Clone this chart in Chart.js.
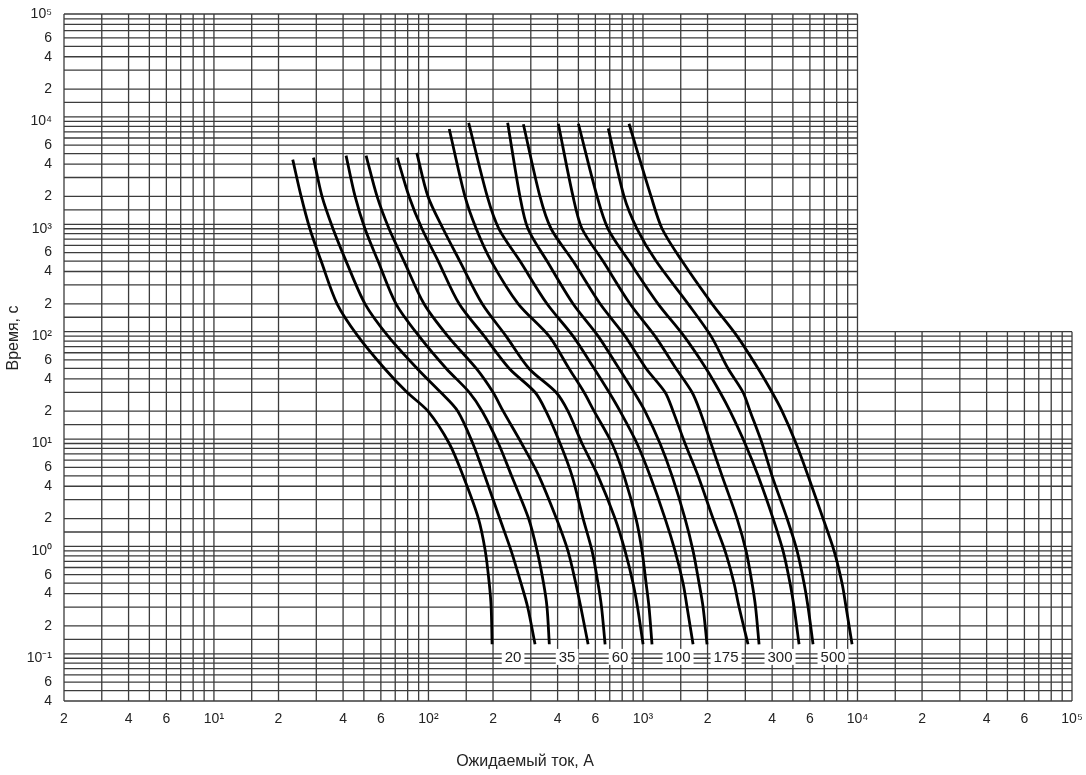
<!DOCTYPE html>
<html>
<head>
<meta charset="utf-8">
<script src="https://cdn.jsdelivr.net/npm/chart.js@4.4.1/dist/chart.umd.min.js"></script>
<style>
  html, body { margin: 0; padding: 0; background: #fff; }
  canvas { display: block; }
</style>
</head>
<body>
<canvas id="fuses" width="1086" height="775"></canvas>
<script>
// time levels (s) shared by all curves below the start point
const timeLevels = [2000, 1000, 500, 200, 100, 50, 30, 20, 10, 5, 2, 1, 0.5, 0.3, 0.135]

// first point of every curve (current A, time s)
const startCurrent = [23.3, 29.1, 41.3, 51.2, 71.6, 88.2, 125, 154, 234, 277, 403, 500, 689, 861]
const startTime = [4400, 4600, 4800, 4800, 4600, 5100, 8500, 9700, 9700, 9400, 9500, 9500, 8600, 9500]

// current (A) of each curve at the time levels above
const curve01 = [25.5, 28.0, 31.6, 37.5, 46.9, 62.4, 79.4, 99.5, 125, 145, 171, 184, 192, 196, 198]
const curve02 = [31.9, 35.9, 41.3, 50.6, 64.8, 88.5, 114, 137, 161, 183, 215, 243, 270, 290, 314]
const curve03 = [45.5, 50.6, 58.2, 70.6, 90.4, 121, 155, 178, 212, 244, 293, 321, 344, 357, 366]
const curve04 = [57.6, 65.5, 76.9, 95.3, 123, 167, 200, 223, 272, 327, 395, 447, 486, 513, 555]
const curve05 = [81.2, 93.3, 111, 139, 182, 238, 314, 353, 411, 467, 526, 579, 617, 641, 666]
const curve06 = [99.5, 117, 140, 178, 230, 294, 393, 447, 520, 617, 741, 825, 899, 943, 1001]
const curve07 = [148, 167, 196, 262, 365, 452, 531, 592, 717, 816, 928, 990, 1034, 1067, 1102]
const curve08 = [188, 213, 267, 357, 472, 592, 695, 782, 938, 1079, 1268, 1411, 1538, 1605, 1712]
const curve09 = [267, 291, 357, 472, 618, 773, 909, 1022, 1201, 1366, 1571, 1712, 1826, 1906, 1989]
const curve10 = [331, 373, 472, 631, 825, 1034, 1268, 1381, 1571, 1806, 2122, 2413, 2658, 2805, 3089]
const curve11 = [472, 520, 651, 870, 1138, 1426, 1693, 1845, 2076, 2337, 2745, 3024, 3225, 3349, 3477]
const curve12 = [611, 687, 861, 1176, 1554, 1968, 2287, 2546, 2991, 3440, 4041, 4498, 4849, 5062, 5342]
const curve13 = [816, 938, 1151, 1623, 2076, 2492, 2928, 3157, 3591, 3997, 4695, 5229, 5636, 5883, 6207]
const curve14 = [1091, 1228, 1521, 2099, 2745, 3440, 3997, 4450, 5173, 5883, 6911, 7777, 8473, 8845, 9435]

// rating labels along the bottom
const ratingLabels = ['20', '35', '60', '100', '175', '300', '500']
const ratingAt = [248, 443, 782, 1457, 2439, 4355, 7694]
const ratingTime = 0.103

// tick labels
const xTickValues = [2, 4, 6, 10, 20, 40, 60, 100, 200, 400, 600, 1000, 2000, 4000, 6000, 10000, 20000, 40000, 60000, 100000]
const yTickValues = [0.04, 0.06, 0.1, 0.2, 0.4, 0.6, 1, 2, 4, 6, 10, 20, 40, 60, 100, 200, 400, 600, 1000, 2000, 4000, 6000, 10000, 20000, 40000, 60000, 100000]

const curves = [curve01, curve02, curve03, curve04, curve05, curve06, curve07,
    curve08, curve09, curve10, curve11, curve12, curve13, curve14]

const FONT = '"Liberation Sans", Arial, sans-serif'
const sup = {'-': '\u207B', '0': '\u2070', '1': '\u00B9', '2': '\u00B2', '3': '\u00B3', '4': '\u2074', '5': '\u2075'}

function tickText(v) {
    let lg = Math.log10(v)
    let e = Math.round(lg)
    if (Math.abs(lg - e) < 1e-9) {
        return '10' + String(e).split('').map(c => sup[c]).join('')
    }
    return String(Math.round(v / Math.pow(10, Math.floor(lg))))
}

// grid lines of the log paper
function gridValues(steps, lo, hi) {
    let out = []
    for (let k = -2; k <= 5; k++) {
        steps.forEach(m => {
            let v = m * Math.pow(10, k)
            if (v >= lo * 0.999 && v <= hi * 1.001) out.push(v)
        })
    }
    return out
}
const gridX = gridValues([1, 1.5, 2, 3, 4, 5, 6, 7, 8, 9], 2, 1e5)
const gridY = gridValues([1, 1.1, 1.5, 2, 3, 4, 5, 6, 7, 8, 9], 0.04, 1e5)

const paperGrid = {
    id: 'paperGrid',
    beforeDatasetsDraw(chart) {
        const {ctx, scales: {x, y}} = chart
        const xLeft = x.getPixelForValue(2)
        const xMid = x.getPixelForValue(1e4)
        const xRight = x.getPixelForValue(1e5)
        const yTop = y.getPixelForValue(1e5)
        const yStep = y.getPixelForValue(110)
        const yBottom = y.getPixelForValue(0.04)
        ctx.save()
        ctx.strokeStyle = '#3c3c3c'
        ctx.lineWidth = 1.3
        ctx.beginPath()
        gridX.forEach(v => {
            let px = x.getPixelForValue(v)
            ctx.moveTo(px, v <= 1.0001e4 ? yTop : yStep)
            ctx.lineTo(px, yBottom)
        })
        gridY.forEach(v => {
            let py = y.getPixelForValue(v)
            ctx.moveTo(xLeft, py)
            ctx.lineTo(v < 111 ? xRight : xMid, py)
        })
        ctx.stroke()
        ctx.restore()
    },
    afterDatasetsDraw(chart) {
        const {ctx, scales: {x, y}} = chart
        ctx.save()
        ctx.font = '15px ' + FONT
        ctx.textAlign = 'center'
        ctx.textBaseline = 'middle'
        let py = y.getPixelForValue(ratingTime)
        ratingLabels.forEach((txt, i) => {
            let px = x.getPixelForValue(ratingAt[i])
            let w = ctx.measureText(txt).width + 6
            ctx.fillStyle = '#fff'
            ctx.fillRect(px - w / 2, py - 8, w, 16)
            ctx.fillStyle = '#222'
            ctx.fillText(txt, px, py + 1)
        })
        ctx.restore()
    },
    afterDraw(chart) {
        const {ctx} = chart
        ctx.save()
        ctx.fillStyle = '#222'
        ctx.font = '16px ' + FONT
        ctx.textAlign = 'center'
        ctx.textBaseline = 'middle'
        ctx.fillText('Ожидаемый ток, А', 525, 762)
        ctx.translate(14, 338)
        ctx.rotate(-Math.PI / 2)
        ctx.fillText('Время, с', 0, 0)
        ctx.restore()
    }
}

const datasets = curves.map((c, i) => ({
    data: [{x: startCurrent[i], y: startTime[i]}].concat(c.map((v, j) => ({x: v, y: timeLevels[j]}))),
    borderColor: '#000',
    borderWidth: 2.8,
    pointRadius: 0,
    tension: 0.3,
    fill: false
}))

let ctx = document.getElementById('fuses').getContext('2d')
new Chart(ctx, {
    type: 'line',
    data: {datasets: datasets},
    options: {
        responsive: false,
        animation: false,
        devicePixelRatio: 1,
        layout: {padding: {top: 14, right: 14, left: 0, bottom: 0}},
        plugins: {legend: {display: false}, tooltip: {enabled: false}},
        scales: {
            x: {
                type: 'logarithmic',
                min: 2,
                max: 1e5,
                grid: {display: false, drawTicks: false},
                border: {display: false},
                afterBuildTicks: s => { s.ticks = xTickValues.map(v => ({value: v})) },
                afterFit: s => { s.height = 74; s.paddingLeft = 0; s.paddingRight = 0 },
                ticks: {
                    autoSkip: false, maxRotation: 0, padding: 10, color: '#222',
                    font: {family: FONT, size: 14},
                    callback: v => tickText(v)
                }
            },
            y: {
                type: 'logarithmic',
                min: 0.04,
                max: 1e5,
                grid: {display: false, drawTicks: false},
                border: {display: false},
                afterBuildTicks: s => { s.ticks = yTickValues.map(v => ({value: v})) },
                afterFit: s => { s.width = 64; s.paddingTop = 0; s.paddingBottom = 0 },
                ticks: {
                    autoSkip: false, padding: 12, color: '#222',
                    font: {family: FONT, size: 14},
                    callback: v => tickText(v)
                }
            }
        }
    },
    plugins: [paperGrid]
})
</script>
</body>
</html>
